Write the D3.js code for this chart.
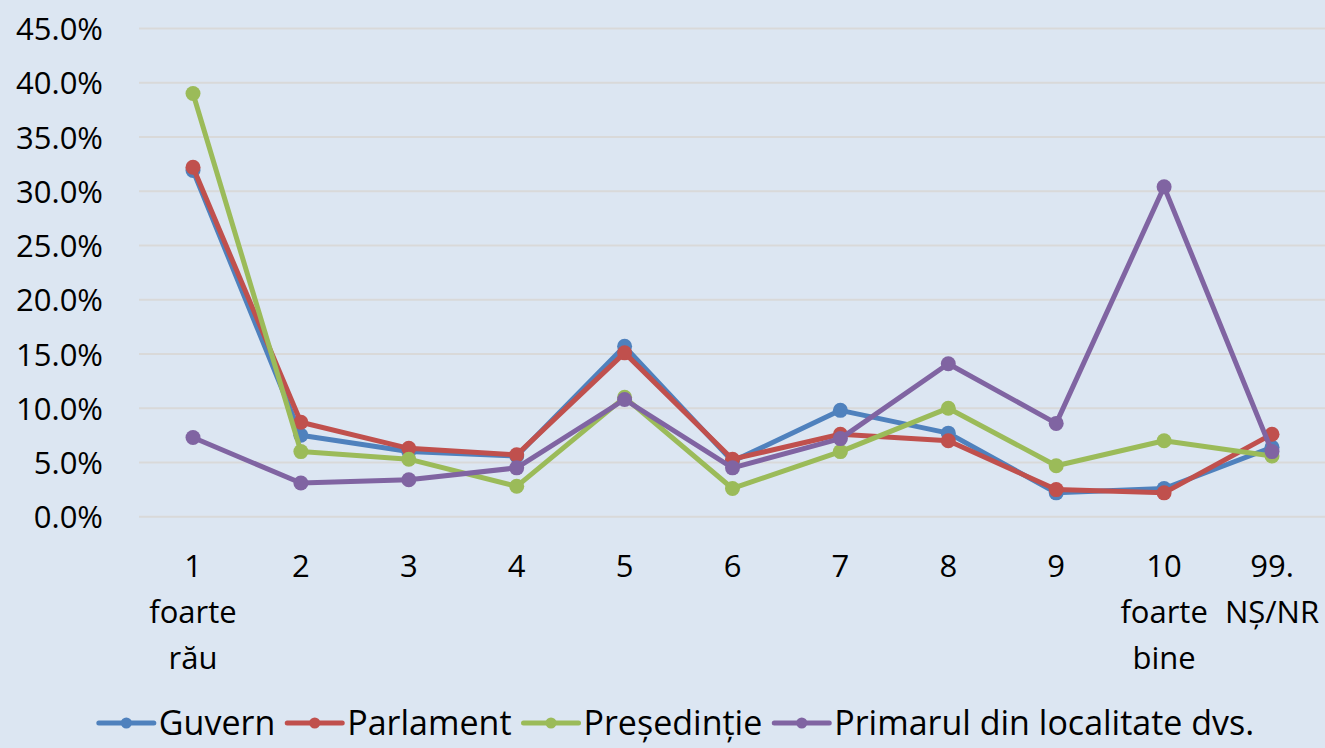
<!DOCTYPE html>
<html>
<head>
<meta charset="utf-8">
<script src="https://cdn.jsdelivr.net/npm/d3@7"></script>
<style>
  html, body { margin: 0; padding: 0; background: #DCE6F2; }
  svg { display: block; }
  text { font-family: "Open Sans", sans-serif; fill: #000; }
</style>
</head>
<body>
<svg id="chart" width="1325" height="748"></svg>
<script>
// ---- data ----
const categories = ["1", "2", "3", "4", "5", "6", "7", "8", "9", "10", "99"];
const categoryLabels = [
  ["1", "foarte", "rău"], ["2"], ["3"], ["4"], ["5"], ["6"], ["7"], ["8"], ["9"],
  ["10", "foarte", "bine"], ["99.", "NȘ/NR"]
];
const seriesNames = ["Guvern", "Parlament", "Președinție", "Primarul din localitate dvs."];
const guvern      = [31.9, 7.5, 6.0, 5.6, 15.7, 5.1, 9.8, 7.7, 2.2, 2.6, 6.4];
const parlament   = [32.2, 8.7, 6.3, 5.7, 15.1, 5.3, 7.6, 7.0, 2.5, 2.2, 7.6];
const presedintie = [39.0, 6.0, 5.3, 2.8, 11.0, 2.6, 6.0, 10.0, 4.7, 7.0, 5.6];
const primarul    = [7.3, 3.1, 3.4, 4.5, 10.8, 4.5, 7.2, 14.1, 8.6, 30.4, 6.0];
const yTicks = [0, 5, 10, 15, 20, 25, 30, 35, 40, 45];
const colors = ["#4F81BD", "#C0504D", "#9BBB59", "#8064A2"];

const seriesValues = [guvern, parlament, presedintie, primarul];

// ---- layout ----
const svg = d3.select("#chart");
const W = 1325, H = 748;
svg.append("rect").attr("width", W).attr("height", H).attr("fill", "#DCE6F2");

const x = d3.scalePoint().domain(categories).range([193, 1272]);
const y = d3.scaleLinear().domain([0, 45]).range([516.7, 28.4]);

// gridlines
svg.append("g").selectAll("line").data(yTicks).join("line")
  .attr("x1", 139).attr("x2", 1325)
  .attr("y1", d => y(d)).attr("y2", d => y(d))
  .attr("stroke", "#D9D9D9").attr("stroke-width", 2);

// y axis labels
const yAxis = d3.axisLeft(y).tickValues(yTicks).tickSize(0).tickPadding(0)
  .tickFormat(d => d.toFixed(1) + "%");
const yg = svg.append("g").attr("transform", "translate(103,0)").call(yAxis);
yg.select(".domain").remove();
yg.selectAll("text").style("font-family", "'Open Sans', sans-serif")
  .style("font-size", "31px").attr("fill", "#000").attr("dy", "0.36em");

// x axis labels
const xg = svg.append("g");
categories.forEach((c, i) => {
  const t = xg.append("text").attr("text-anchor", "middle")
    .attr("x", x(c)).attr("y", 577).style("font-size", "31px");
  categoryLabels[i].forEach((line, j) => {
    t.append("tspan").attr("x", x(c)).attr("dy", j === 0 ? 0 : 46).text(line);
  });
});

// lines + markers
const lineGen = d3.line().x((d, i) => x(categories[i])).y(d => y(d));
seriesValues.forEach((vals, s) => {
  const g = svg.append("g");
  g.append("path").datum(vals).attr("d", lineGen)
    .attr("fill", "none").attr("stroke", colors[s]).attr("stroke-width", 5)
    .attr("stroke-linejoin", "round").attr("stroke-linecap", "round");
  g.selectAll("circle").data(vals).join("circle")
    .attr("cx", (d, i) => x(categories[i])).attr("cy", d => y(d))
    .attr("r", 7.5).attr("fill", colors[s]);
});

// legend
const legend = svg.append("g");
const items = [];
seriesNames.forEach((name, s) => {
  const g = legend.append("g");
  g.append("line").attr("x1", 0).attr("x2", 55).attr("y1", 0).attr("y2", 0)
    .attr("stroke", colors[s]).attr("stroke-width", 5).attr("stroke-linecap", "round");
  g.append("circle").attr("cx", 27.5).attr("cy", 0).attr("r", 5.5).attr("fill", colors[s]);
  const t = g.append("text").attr("x", 60).attr("y", 0).attr("dy", "0.36em")
    .style("font-size", "34px").text(name);
  items.push({ g, w: 60 + t.node().getComputedTextLength() });
});
const gap = 12;
const totalW = d3.sum(items, d => d.w) + gap * (items.length - 1);
let cx = (70 + 1283) / 2 - totalW / 2;
items.forEach(it => {
  it.g.attr("transform", `translate(${cx},723)`);
  cx += it.w + gap;
});
</script>
</body>
</html>
